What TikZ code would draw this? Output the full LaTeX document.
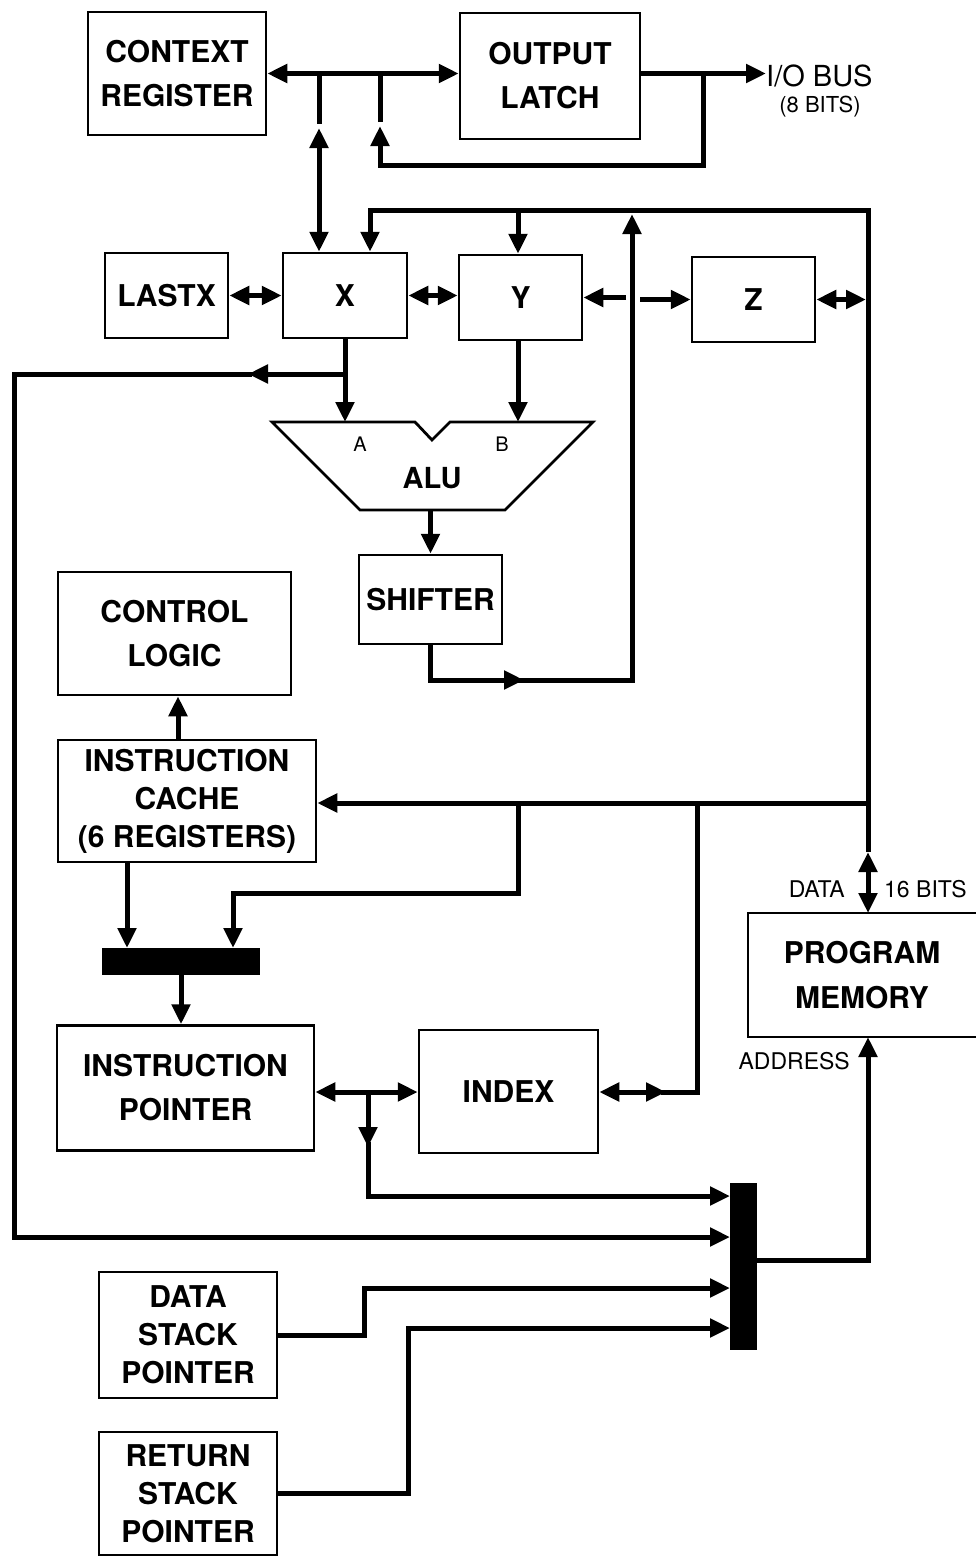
\documentclass[tikz,border=0pt]{standalone}
\usepackage{fontspec}
\setmainfont{TeX Gyre Heros}
\usetikzlibrary{arrows.meta}
\begin{document}
\begin{tikzpicture}[x=1pt,y=-1pt,
  box/.style={draw, line width=2.5pt, align=center, inner sep=0pt,
    font=\bfseries\fontsize{30}{44}\selectfont},
  boxt/.style={box, font=\bfseries\fontsize{30}{38}\selectfont},
  muxbar/.style={fill=black, draw=none, inner sep=0pt},
  bus/.style={line width=5pt},
  arr/.style={bus, -{Triangle[length=20pt,width=18pt]}},
  darr/.style={bus, {Triangle[length=20pt,width=18pt]}-{Triangle[length=20pt,width=18pt]}},
  lbl/.style={inner sep=0pt, font=\fontsize{23}{27}\selectfont}]
\useasboundingbox (0,0) rectangle (976,1556);

% boxes
\node[box, minimum width=178pt, minimum height=123pt] (ctx) at (177,73.5) {CONTEXT\\REGISTER};
\node[box, minimum width=180pt, minimum height=126pt] (olatch) at (550,76) {OUTPUT\\LATCH};
\node[box, minimum width=123pt, minimum height=85pt] (lastx) at (166.5,295.5) {LASTX};
\node[box, minimum width=124pt, minimum height=85pt] (X) at (345,295.5) {X};
\node[box, minimum width=123pt, minimum height=85pt] (Y) at (520.5,297.5) {Y};
\node[box, minimum width=123pt, minimum height=85pt] (Z) at (753.5,299.5) {Z};
\node[box, minimum width=143pt, minimum height=89pt] (shifter) at (430.5,599.5) {SHIFTER};
\node[box, minimum width=233pt, minimum height=123pt] (ctrl) at (174.5,633.5) {CONTROL\\LOGIC};
\node[boxt, minimum width=258pt, minimum height=122pt] (cache) at (187,801) {INSTRUCTION\\CACHE\\(6 REGISTERS)};
\node[muxbar, minimum width=158pt, minimum height=27pt] (mux1) at (181,961.5) {};
\node[box, minimum width=257pt, minimum height=125pt] (ip) at (185.5,1088) {INSTRUCTION\\POINTER};
\node[box, minimum width=179pt, minimum height=123pt] (index) at (508.5,1091.5) {INDEX};
\node[muxbar, minimum width=27pt, minimum height=167pt] (mux2) at (743.5,1266.5) {};
\node[boxt, minimum width=178pt, minimum height=126pt] (dsp) at (188,1335) {DATA\\STACK\\POINTER};
\node[boxt, minimum width=178pt, minimum height=123pt] (rsp) at (188,1493.5) {RETURN\\STACK\\POINTER};
\node[inner sep=0pt, minimum width=228pt, minimum height=124pt, align=center,
  font=\bfseries\fontsize{30}{45}\selectfont] (pm) at (862,975) {PROGRAM\\MEMORY};
\draw[line width=2.5pt] (pm.north east) -- (pm.north west) -- (pm.south west) -- (pm.south east);

% ALU
\draw[line width=2.8pt, line join=miter] (272,422) -- (415,422) -- (432,440) -- (450,422) -- (593,422) -- (505,510) -- (360,510) -- cycle;
\node[inner sep=0pt, font=\fontsize{20}{24}\selectfont] (la) at (360,444) {A};
\node[inner sep=0pt, font=\fontsize{20}{24}\selectfont] (lb) at (502,444) {B};
\node[inner sep=0pt, font=\bfseries\fontsize{29}{34}\selectfont] (alu) at (432,478) {ALU};
\coordinate (aluA) at (345,422);
\coordinate (aluB) at (518,422);
\coordinate (aluO) at (430.5,510);

% labels
\node[inner sep=0pt, anchor=west, font=\fontsize{29}{34}\selectfont] (iobus) at (766,76) {I/O BUS};
\node[inner sep=0pt, font=\fontsize{22}{26}\selectfont] (bits8) at (820,107) {(8 BITS)};
\node[lbl, anchor=east] (ldata) at (845,889) {DATA};
\node[lbl, anchor=west] (l16) at (884,889) {16 BITS};
\node[lbl, anchor=east] (laddr) at (850,1061) {ADDRESS};

% coordinates
\coordinate (j1) at (319,73.5);
\coordinate (j1a) at (319,128);
\coordinate (j2) at (380,73.5);
\coordinate (j2a) at (380,126);
\coordinate (j3) at (703,73.5);
\coordinate (loopb) at (703,165);
\coordinate (ttop) at (370,210);
\coordinate (rtop) at (868,210);
\coordinate (ytop) at (518,210);
\coordinate (dtip) at (868,852);
\coordinate (stip) at (524,680);
\coordinate (s2) at (515,680);
\coordinate (vtip) at (632,214);
\coordinate (yin) at (626,297.5);
\coordinate (zin) at (640,299.5);
\coordinate (zbus) at (866,299.5);
\coordinate (xj) at (345,374);
\coordinate (xl) at (248,374);
\coordinate (xl2) at (252,374);
\coordinate (lleft) at (14,1237);
\coordinate (m2b) at (730,1237);
\coordinate (cbus) at (868,803);
\coordinate (cb1) at (518,803);
\coordinate (cb1b) at (233,893);
\coordinate (cb1t) at (233,948);
\coordinate (cb2) at (697,803);
\coordinate (idxr) at (666,1092);
\coordinate (idxr2) at (661,1092);
\coordinate (cout) at (127,862);
\coordinate (m1in) at (127,948);
\coordinate (jidx) at (368,1092);
\coordinate (jdn) at (368,1147);
\coordinate (jdn2) at (368,1142);
\coordinate (m2a) at (730,1196);
\coordinate (dspup) at (364,1288);
\coordinate (m2c) at (730,1288);
\coordinate (rspup) at (408,1328);
\coordinate (m2d) at (730,1328);
\coordinate (m2o) at (757,1260);
\coordinate (pmb) at (868,1037);
\coordinate (pmt) at (868,913);

% connectors
\draw[darr] (ctx.east) -- (olatch.west |- ctx.east);
\draw[bus] (j1) -- ([yshift=4pt]j1a);
\draw[darr] (j1a) -- (X.north -| j1);
\draw[arr] (j3) |- (loopb -| j2) -- (j2a);
\draw[bus] ([yshift=4pt]j2a) -- (j2);
\draw[arr] (olatch.east |- ctx.east) -- (iobus.west |- ctx.east);

\draw[arr] (dtip) -- (rtop) -- (ttop) -- (X.north -| ttop);
\draw[darr] (dtip) -- (pmt);
\draw[arr] (ytop) -- (Y.north -| ytop);
\draw[arr] (shifter.south) |- (stip);
\draw[arr] (s2) -| (vtip);

\draw[darr] (lastx.east) -- (X.west);
\draw[darr] (X.east) -- (Y.west |- X.east);
\draw[arr] (yin) -- (Y.east);
\draw[arr] (zin) -- (Z.west);
\draw[darr] (Z.east) -- (zbus);

\draw[arr] (X.south) -- (aluA);
\draw[arr] (xj) -- (xl);
\draw[arr] (xl2) -| (lleft) -- (m2b);
\draw[arr] (Y.south -| aluB) -- (aluB);
\draw[arr] (aluO) -- (shifter.north);

\draw[arr] (cache.north -| 178,0) -- (ctrl.south -| 178,0);
\draw[arr] (cbus) -- (cache.east |- cbus);
\draw[arr] (cb1) |- (cb1b) -- (cb1t);
\draw[bus] (cb2) |- (idxr2);
\draw[darr] (index.east |- idxr) -- (idxr);
\draw[arr] (cout) -- (m1in);
\draw[arr] (mux1.south) -- (ip.north -| mux1.south);
\draw[darr] (ip.east |- jidx) -- (index.west |- jidx);
\draw[arr] (jidx) -- (jdn);
\draw[arr] (jdn2) |- (m2a);
\draw[arr] (dsp.east) -| (dspup) -- (m2c);
\draw[arr] (rsp.east) -| (rspup) -- (m2d);
\draw[arr] (m2o) -| (pmb);
\end{tikzpicture}
\end{document}
